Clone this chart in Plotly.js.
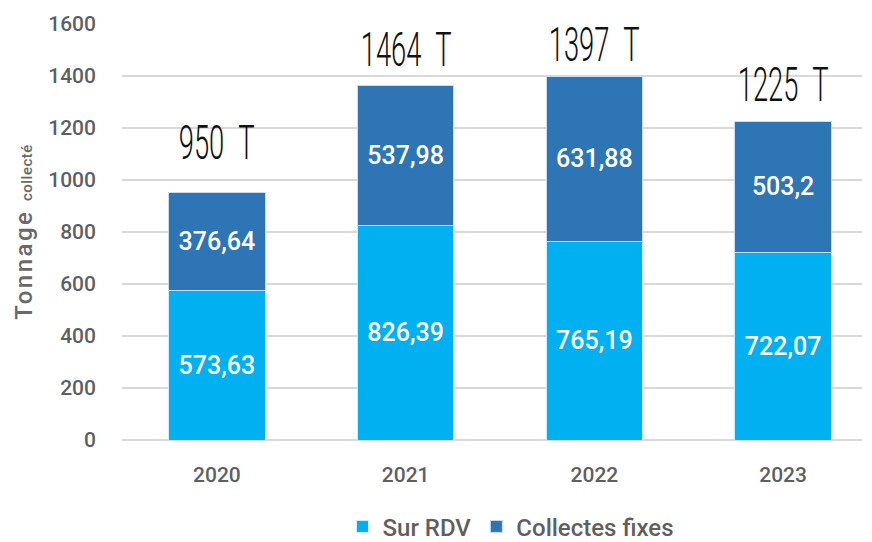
<!DOCTYPE html>
<html><head><meta charset="utf-8">
<script src="https://cdn.plot.ly/plotly-3.0.1.min.js"></script>
<style>body{margin:0;background:#fff}#chart{width:872px;height:542px}</style>
</head><body><div id="chart"></div>
<script>
const years = ['2020','2021','2022','2023'];
const surRdv = [573.63, 826.39, 765.19, 722.07];
const collectesFixes = [376.64, 537.98, 631.88, 503.2];
const totalLabels = ['950 T', '1464 T', '1397 T', '1225 T'];
const yTicks = [0,200,400,600,800,1000,1200,1400,1600];

const fmt = v => String(v).replace('.', ',');
const tickFont = {family:'Roboto, sans-serif', size:21, color:'#5f5f5f', weight:500};

const traces = [
  {type:'bar', name:'Sur RDV', x:years, y:surRdv, text:surRdv.map(fmt),
   marker:{color:'#00b0f0', line:{color:'#cfeefa', width:1}},
   textposition:'inside', insidetextanchor:'middle', textangle:0,
   textfont:{family:'Roboto, sans-serif', size:25, color:'#ffffff', weight:500}, hoverinfo:'skip'},
  {type:'bar', name:'Collectes fixes', x:years, y:collectesFixes, text:collectesFixes.map(fmt),
   marker:{color:'#2e75b6', line:{color:'#c9dbee', width:1}},
   textposition:'inside', insidetextanchor:'middle', textangle:0,
   textfont:{family:'Roboto, sans-serif', size:25, color:'#ffffff', weight:500}, hoverinfo:'skip'}
];

const totals = surRdv.map((v,i)=>v+collectesFixes[i]);
const shifts = [50, 35, 32, 36];
const annotations = years.map((y,i)=>({
  x:i, y:totals[i], xref:'x', yref:'y', text:totalLabels[i].replace(' ', '\u2002'), showarrow:false,
  yanchor:'middle', yshift:shifts[i],
  font:{family:'Roboto, sans-serif', size:38, color:'#111111', weight:300}
}));

const layout = {
  width:872, height:542,
  margin:{l:122, r:10, t:24, b:102, autoexpand:false},
  paper_bgcolor:'#ffffff', plot_bgcolor:'#ffffff',
  barmode:'stack', bargap:0.49,
  showlegend:true,
  legend:{orientation:'h', x:0.525, xanchor:'center', yref:'container', y:0.028, yanchor:'middle',
          font:{family:'Roboto, sans-serif', size:24, color:'#5f5f5f', weight:500}, traceorder:'normal'},
  xaxis:{type:'category', range:[-0.503, 3.418], tickfont:tickFont, showgrid:false,
         zeroline:false, showline:false, ticks:'', ticklabelstandoff:20},
  yaxis:{range:[0,1600], tickvals:yTicks, tickfont:tickFont, showgrid:true,
         gridcolor:'#d9d9d9', gridwidth:1.5, zeroline:true, zerolinecolor:'#d9d9d9', zerolinewidth:1.5,
         showline:false, ticks:'', ticklabelstandoff:25,
         title:{text:'Tonnage <span style="font-size:15px">collecté</span>', standoff:8,
                font:{family:'Roboto, sans-serif', size:24, color:'#6a6a6a', weight:500}}},
  annotations:annotations,
  font:{family:'Roboto, sans-serif'}
};
Plotly.newPlot('chart', traces, layout, {displayModeBar:false}).then(gd => {
  gd.querySelectorAll('.annotation-text').forEach(t => {
    const b = t.getBBox();
    const cx = b.x + b.width/2, cy = b.y + b.height/2;
    t.setAttribute('transform', `translate(${cx},${cy}) scale(0.72,1.25) translate(${-cx},${-cy})`);
  });
  const yt = gd.querySelector('.ytitle');
  if (yt) {
    yt.style.letterSpacing = '2.5px';
    yt.querySelectorAll('tspan').forEach(s => {
      if ((s.getAttribute('style')||'').indexOf('font-size') >= 0) s.style.letterSpacing = '0.5px';
    });
  }
});
</script></body></html>
